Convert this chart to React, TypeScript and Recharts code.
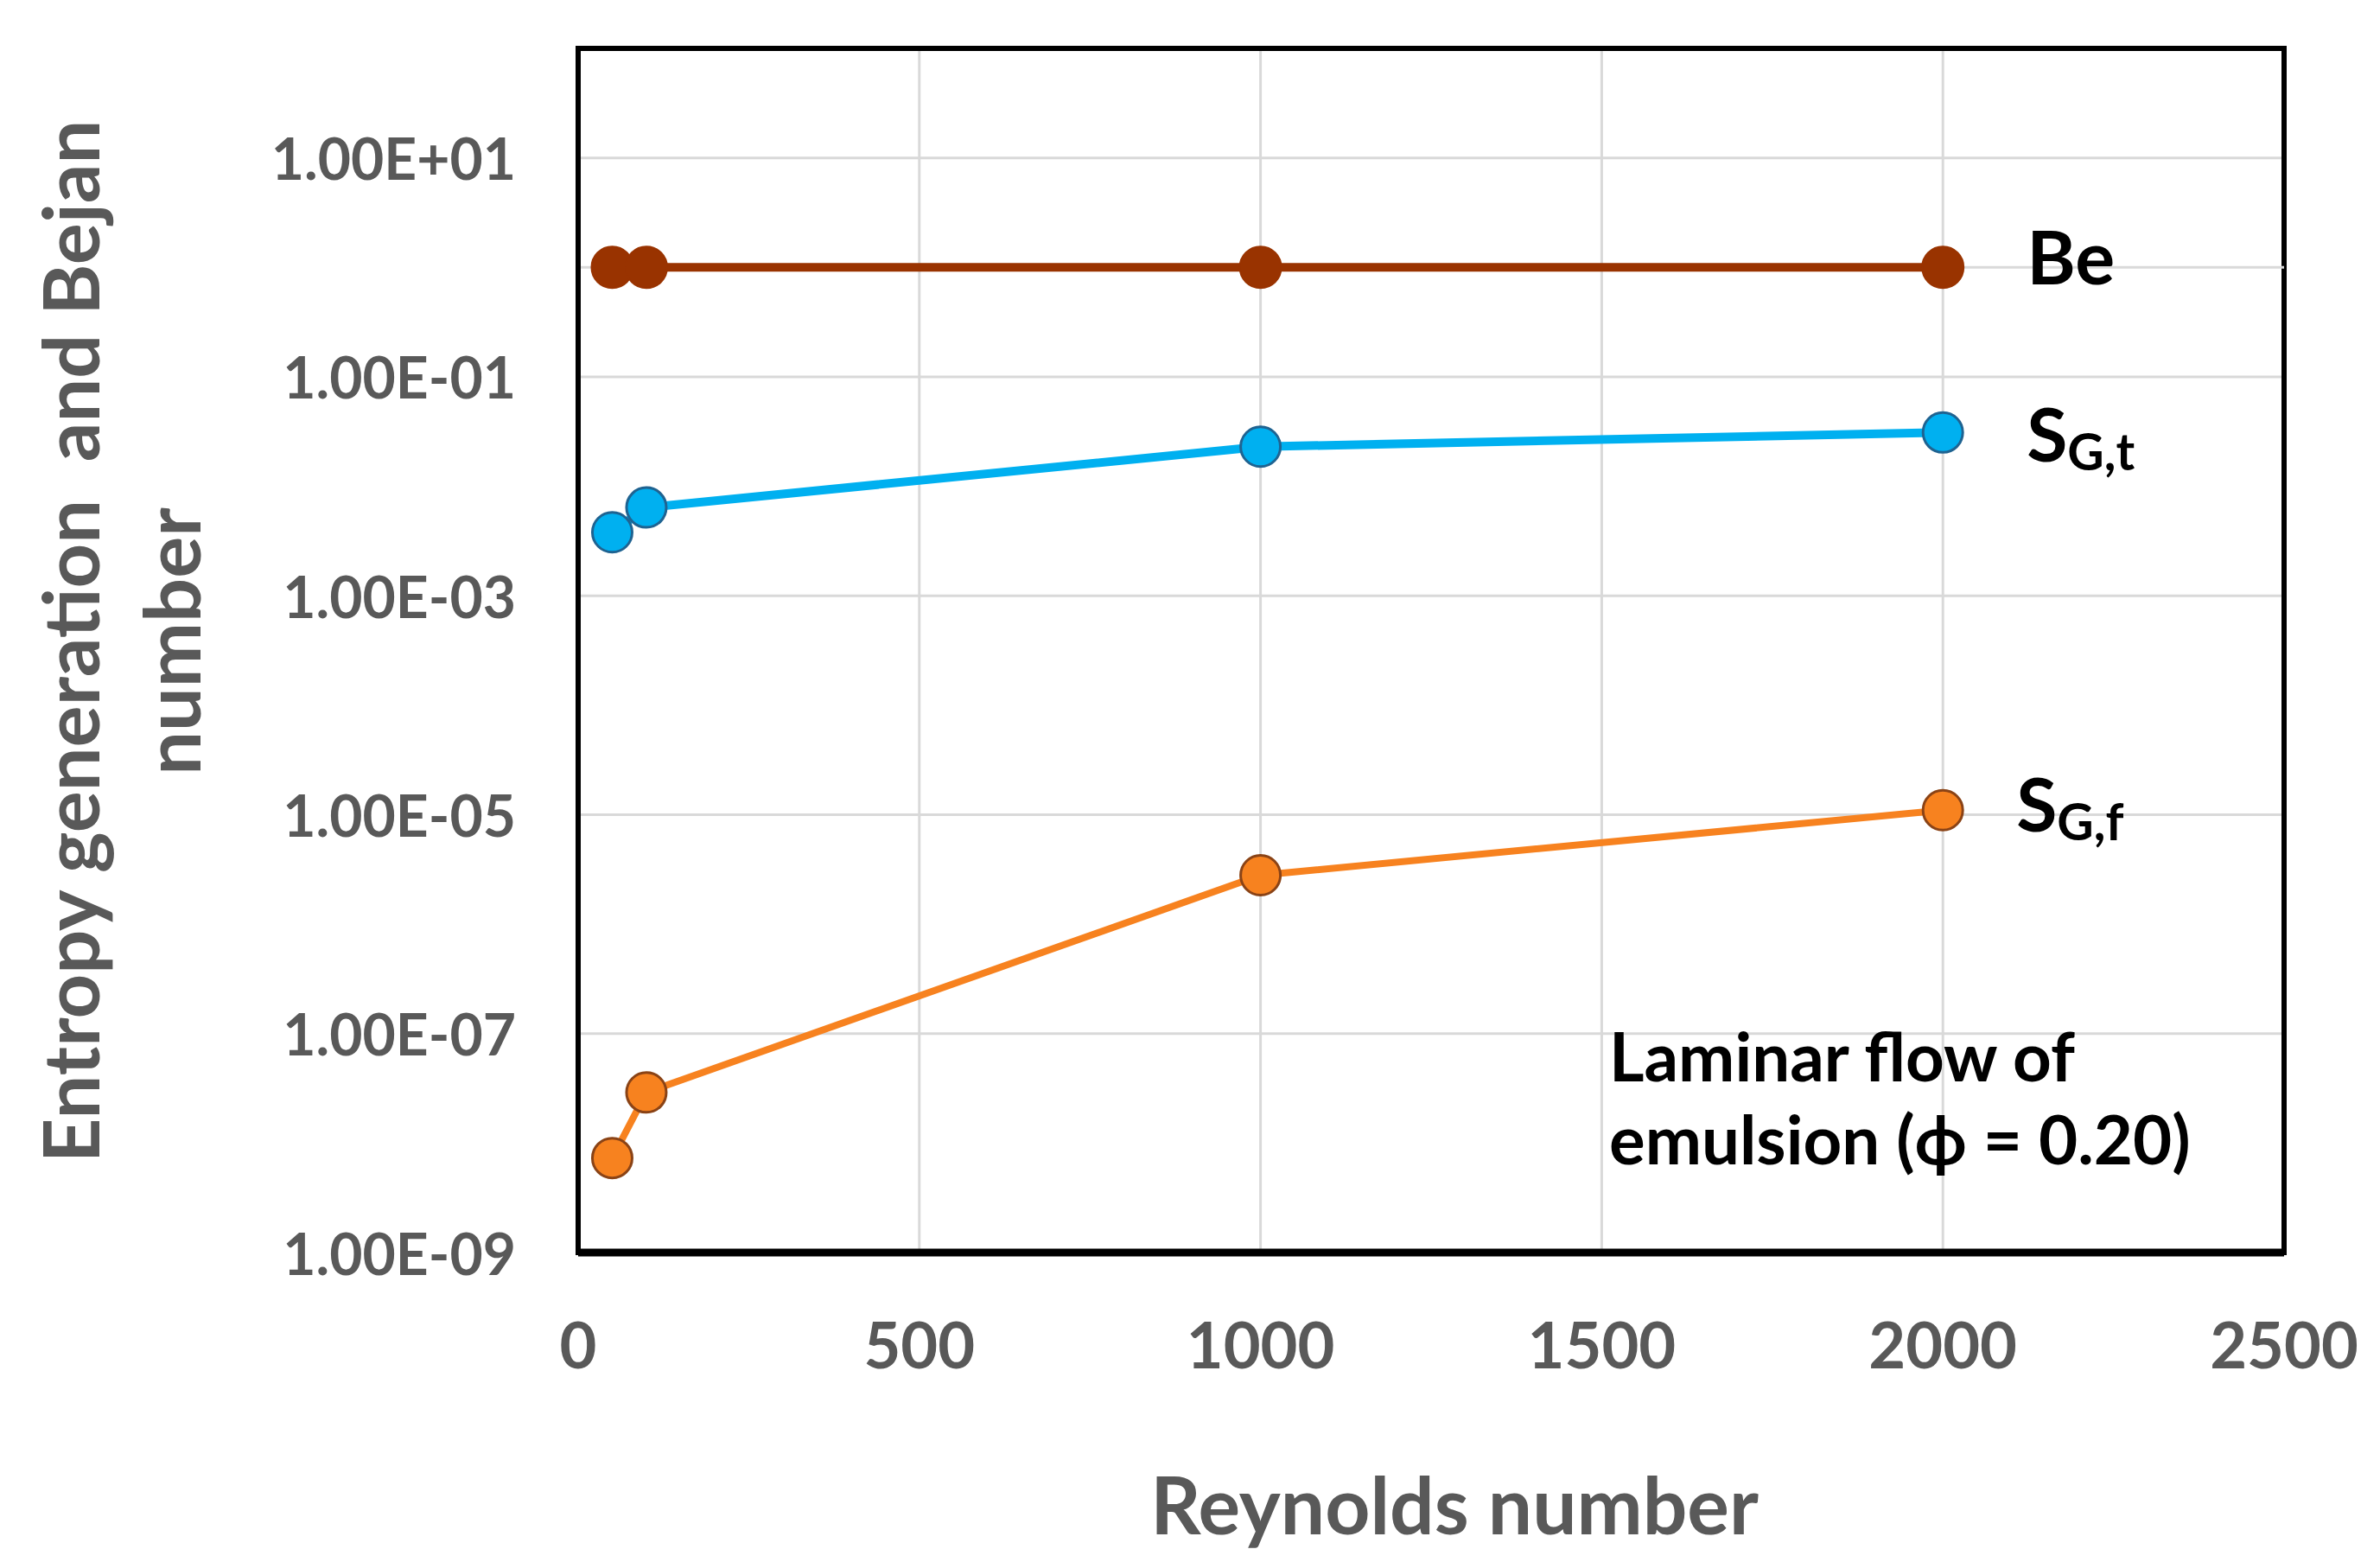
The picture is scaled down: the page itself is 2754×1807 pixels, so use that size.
import React from 'react';
import {
  LineChart, Line, XAxis, YAxis, CartesianGrid, ReferenceLine, ReferenceArea, LabelList,
} from 'recharts';

const reynolds = [50, 100, 1000, 2000];
const beValues = [1.0, 1.0, 1.0, 1.0];
const sgtValues = [0.0038, 0.0064, 0.023, 0.031];
const sgfValues = [7.3e-9, 2.9e-8, 2.8e-6, 1.1e-5];
const xTicks = [0, 500, 1000, 1500, 2000, 2500];
const yTicks = [1e-9, 1e-7, 1e-5, 1e-3, 1e-1, 1e1];

const data = reynolds.map((re, i) => ({ re, be: beValues[i], sgt: sgtValues[i], sgf: sgfValues[i] }));

const W = 2754;
const H = 1807;
const FONT = 'Lato, "Open Sans", sans-serif';
const GREY = '#595959';

const fmtExp = (v: number) => {
  const e = Math.floor(Math.log10(v) + 1e-9);
  const m = v / Math.pow(10, e);
  const sign = e < 0 ? '-' : '+';
  return `${m.toFixed(2)}E${sign}${String(Math.abs(e)).padStart(2, '0')}`;
};

const XTick = (props: any) => {
  const { x, y, payload } = props;
  return (
    <text x={x} y={y + 97} textAnchor="middle" dominantBaseline="central"
      fontFamily={FONT} fontWeight={700} fontSize={74} fill={GREY}>
      {payload.value}
    </text>
  );
};

const YTick = (props: any) => {
  const { x, y, payload } = props;
  return (
    <text x={x - 64} y={y} textAnchor="end" dominantBaseline="central"
      fontFamily={FONT} fontWeight={700} fontSize={66} fill={GREY}>
      {fmtExp(payload.value)}
    </text>
  );
};

const lastIdx = reynolds.length - 1;

const makeLabel = (main: string, sub: string, dx: number, dy: number) => (props: any) => {
  const { x, y, index } = props;
  if (index !== lastIdx) return null;
  const fs = 86;
  return (
    <text x={x + dx} y={y + dy} dominantBaseline="central" fontFamily={FONT}
      fontWeight={700} fontSize={fs} fill="#000">
      <tspan>{main}</tspan>
      {sub ? <tspan fontSize={fs * 0.68} dy={fs * 0.24}>{sub}</tspan> : null}
    </text>
  );
};

export default function App() {
  return (
    <div style={{ position: 'absolute', left: 0, top: 0, width: W, height: H, background: '#fff' }}>
      <LineChart width={W} height={H} data={data}
        margin={{ top: 56, right: 111, bottom: 208, left: 0 }}>
        <CartesianGrid stroke="#D9D9D9" strokeWidth={3} />
        <ReferenceLine y={1} stroke="#D9D9D9" strokeWidth={3} />
        <XAxis dataKey="re" type="number" domain={[0, 2500]} ticks={xTicks}
          height={150} tickLine={false} axisLine={{ stroke: '#000', strokeWidth: 9 }}
          tick={<XTick />} interval={0} />
        <YAxis type="number" scale="log" domain={[1e-9, 100]} ticks={yTicks}
          allowDataOverflow width={669} tickLine={false}
          axisLine={{ stroke: '#000', strokeWidth: 6 }} tick={<YTick />} interval={0} />
        <ReferenceArea x1={0} x2={2500} y1={1e-9} y2={100} fill="none" fillOpacity={0}
          stroke="#000" strokeWidth={6} ifOverflow="visible" />
        <Line dataKey="be" type="linear" stroke="#993300" strokeWidth={10}
          dot={{ r: 24, fill: '#993300', stroke: '#993300', strokeWidth: 2 }}
          isAnimationActive={false}>
          <LabelList dataKey="be" content={makeLabel('Be', '', 97, -14)} />
        </Line>
        <Line dataKey="sgt" type="linear" stroke="#00B0F0" strokeWidth={10}
          dot={{ r: 23, fill: '#00B0F0', stroke: '#1F6391', strokeWidth: 3 }}
          isAnimationActive={false}>
          <LabelList dataKey="sgt" content={makeLabel('S', 'G,t', 97, 0)} />
        </Line>
        <Line dataKey="sgf" type="linear" stroke="#F7821F" strokeWidth={8}
          dot={{ r: 23, fill: '#F7821F', stroke: '#8A4316', strokeWidth: 3 }}
          isAnimationActive={false}>
          <LabelList dataKey="sgf" content={makeLabel('S', 'G,f', 85, -9)} />
        </Line>
      </LineChart>
      <svg width={W} height={H} style={{ position: 'absolute', left: 0, top: 0, pointerEvents: 'none' }}>
        <text x={1683} y={1739} textAnchor="middle" dominantBaseline="central"
          fontFamily={FONT} fontWeight={700} fontSize={91} fill={GREY}>Reynolds number</text>
        <g transform="translate(80 742) rotate(-90)">
          <text x={0} y={0} textAnchor="middle" dominantBaseline="central" xmlSpace="preserve"
            fontFamily={FONT} fontWeight={700} fontSize={90} fill={GREY}>Entropy generation  and Bejan</text>
        </g>
        <g transform="translate(197 742) rotate(-90)">
          <text x={0} y={0} textAnchor="middle" dominantBaseline="central"
            fontFamily={FONT} fontWeight={700} fontSize={90} fill={GREY}>number</text>
        </g>
        <text x={1862} y={1221} dominantBaseline="central" fontFamily={FONT} fontWeight={700}
          fontSize={78} fill="#000">Laminar flow of</text>
        <text x={1862} y={1317} dominantBaseline="central" fontFamily={FONT} fontWeight={700}
          fontSize={78} fill="#000">emulsion (ϕ = 0.20)</text>
      </svg>
    </div>
  );
}
